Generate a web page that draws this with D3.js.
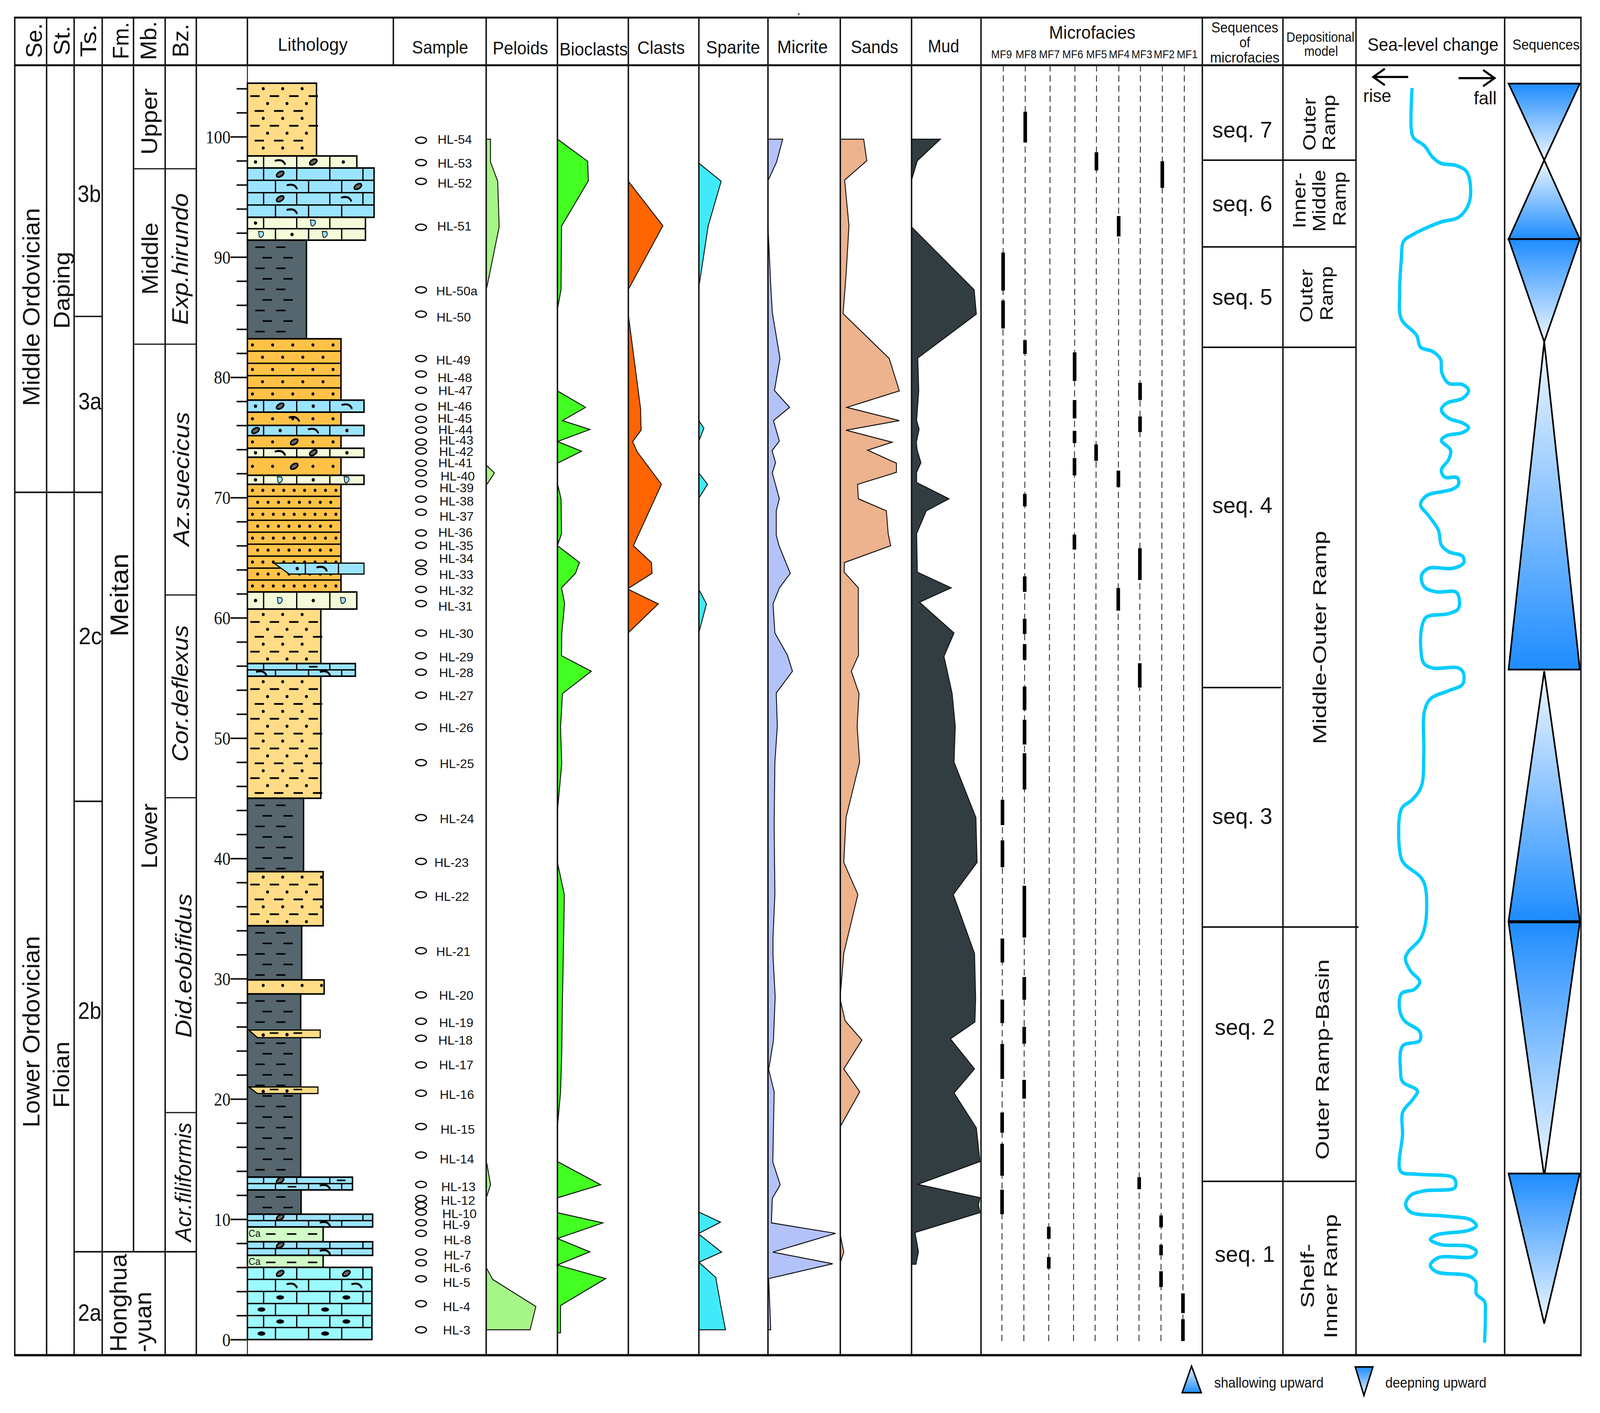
<!DOCTYPE html>
<html lang="en">
<head>
<meta charset="UTF-8">
<title>Sedimentary log</title>
<script src="https://d3js.org/d3.v7.min.js"></script>
<style>
  html, body { margin: 0; background: #fff; overflow: hidden; }
  svg { display: block; width: 100vw; height: 100vh; }
  text { font-family: "Liberation Sans", Arial, sans-serif; fill: #111; }
</style>
</head>
<body>
<script>
// thickness of the section in metres, all depth values below use this
const depthTicks = d3.range(0, 105, 2);

// sample names, depth of the sample mark, depth of the printed name
const sampleNames = ['HL-54','HL-53','HL-52','HL-51','HL-50a','HL-50','HL-49','HL-48','HL-47','HL-46','HL-45','HL-44','HL-43','HL-42','HL-41','HL-40','HL-39','HL-38','HL-37','HL-36','HL-35','HL-34','HL-33','HL-32','HL-31','HL-30','HL-29','HL-28','HL-27','HL-26','HL-25','HL-24','HL-23','HL-22','HL-21','HL-20','HL-19','HL-18','HL-17','HL-16','HL-15','HL-14','HL-13','HL-12','','HL-10','HL-9','HL-8','HL-7','HL-6','HL-5','HL-4','HL-3'];
const sampleDepths = [99.71,97.85,96.29,92.47,87.27,85.25,81.56,80.27,78.92,77.52,76.5,75.61,74.61,73.88,72.86,72.05,71.16,69.87,68.78,67.06,66.03,64.55,63.85,62.37,61.19,58.74,56.85,55.48,53.57,50.93,47.96,43.39,39.75,36.98,32.32,28.65,26.46,25.05,22.83,20.48,17.71,15.34,12.89,11.73,11.18,10.6,9.71,8.83,7.27,6.38,5.05,2.98,0.81];
const sampleLabelDepths = [99.76,97.77,96.13,92.57,87.16,84.98,81.42,79.97,78.87,77.57,76.58,75.63,74.75,73.83,72.89,71.78,70.79,69.68,68.43,67.09,65.98,64.93,63.58,62.24,60.95,58.68,56.74,55.45,53.51,50.85,47.88,43.28,39.64,36.84,32.24,28.6,26.33,24.87,22.83,20.36,17.46,15.01,12.71,11.55,11.18,10.44,9.54,8.28,7.01,5.98,4.74,2.73,0.79];
// small sideways shifts of the printed names, as in the original drawing
const sampleNudge = [-4,-4,-4,-5,-8,-7,-8,-4,-2,-4,-4,-2,0,0,-2,4,1,1,1,-2,0,0,0,0,-2,0,0,0,0,0,2,2,-13,-12,-8,0,0,-2,0,2,4,2,6,5,0,9,10,13,13,13,11,11,11];

// component logs: patches of [depth, percent]
const logNames = ['Peloids','Bioclasts','Clasts','Sparite','Micrite','Sands','Mud'];
const peloids = [
  [[99.8,6],[97.9,6],[96.3,16],[92.5,18],[87.5,1]],
  [[72.7,0],[72.05,11.5],[71.1,1]],
  [[14.63,1],[12.87,6],[11.93,1]],
  [[5.88,1],[5,9],[2.75,69],[0.81,61]]
];
const bioclasts = [
  [[99.8,0],[97.96,42],[96.34,43],[92.57,5.7],[87.3,5],[85.65,0]],
  [[78.87,0],[77.5,39],[76.4,7],[75.66,45],[74.66,0],[73.85,33.5],[72.86,0]],
  [[71.18,0],[69.9,5],[67,5.7],[66,0],[64.6,30.6],[63.7,25],[62.5,5.7],[61.2,10],[58.7,6],[56.85,5.7],[55.56,47],[53.7,7],[50.9,4.3],[47.9,6],[43.9,0]],
  [[39.67,0],[36.98,9.6],[33.4,8.6],[28.4,7],[23.8,6],[20.56,4.3],[17.66,0]],
  [[14.8,0],[12.87,60],[11.78,0]],
  [[10.55,0],[9.7,63],[8.4,0],[7.29,45],[6.2,0],[5.07,67],[2.83,4.3],[0.56,4.3]]
];
const clasts = [
  [[96.3,0],[92.6,48],[87.3,0]],
  [[85.2,0],[77.4,17],[75.6,17.7],[74.66,6],[73.8,12.4],[71.1,46],[66,7],[64.6,32],[63.7,33],[62.45,0]],
  [[62.37,0],[61.16,41.6],[58.76,0]]
];
const sparite = [
  [[97.8,0],[96.3,31],[92.6,13],[87.5,0]],
  [[76.4,0],[75.77,7],[74.7,0]],
  [[72.05,0],[71.1,12],[69.95,0]],
  [[62.37,0],[61.16,10.5],[58.76,0]],
  [[10.6,0],[9.76,30],[8.83,0]],
  [[8.76,0],[7.27,31.5],[6.43,0],[5.17,23.4],[2.78,30.6],[0.81,37]]
];
const micrite = [
  [[99.8,20.5],[97.9,12],[96.34,0]],
  [[92.65,0],[87.7,3.8],[85.4,6],[81.56,16.7],[78.9,9],[77.5,30],[76.4,7.6],[74.7,15.8],[73.9,5.7],[72.9,10.5],[72.05,6],[69.9,15.8],[68.9,11.5],[66.9,11.5],[66,15.3],[63.7,31],[62.5,16],[61.16,7],[58.74,9.6],[56.9,27],[55.56,34],[53.75,11.5],[51,13],[48,9.6],[42.8,8.6],[37,9.6],[33.4,7],[31.9,7],[28.5,10],[24.85,7.6],[22.45,1],[20.6,8.6],[14.76,6.7],[12.87,17],[11.73,6],[9.7,4.8],[8.83,94],[7.27,6.7],[6.3,90],[5.07,1],[0.81,3.8]]
];
const sands = [
  [[99.8,32.5],[98,36.8],[96.4,6],[92.6,12],[88.5,8],[85.3,3.8],[81.56,68],[78.87,82],[77.5,9],[76.4,82],[75.6,8],[74.6,72],[73.94,38],[72.86,78],[72.1,78],[71.1,24],[69.9,25],[68.9,64],[67,66.5],[66,70],[64.6,5.7],[63.8,5.3],[62.5,25],[58.9,25],[56.9,25.3],[55.56,15.3],[53.7,26],[51,23.4],[48,26.8],[43.4,8],[39.67,4.8],[37,24.4],[33.4,10],[32.1,4.8],[28.6,0]],
  [[28.25,0],[26.5,6.7],[24.9,30],[22.5,4.8],[20.6,27],[17.7,0]],
  [[8.7,0],[7.27,4.8],[6.4,0]]
];
const mud = [
  [[99.8,40],[98,8],[96.4,0]],
  [[92.5,0],[87.27,87],[85.25,90],[81.6,8.6],[78.9,10],[76.4,7],[75.7,10.5],[74.6,6.7],[74,7.6],[72.9,13],[72.1,7],[71.25,7],[69.9,52],[68.9,20.5],[67,7],[63.8,8],[62.5,55],[61.3,11],[58.74,59],[56.8,45],[53.7,56.4],[51,60.7],[48,59],[43.4,89.4],[39.67,91],[37,58],[32.1,87.5],[28.4,89],[26.4,88],[25,54],[22.5,87.5],[20.5,59],[17.6,90],[14.8,95],[12.9,8.6],[11.8,95],[11.2,93],[10.55,95],[8.9,4.8],[7.3,9.6],[6.26,6]]
];
const logSeries = [peloids, bioclasts, clasts, sparite, micrite, sands, mud];

// microfacies occurrences: [facies, upper depth, lower depth]
const mfNames = ['MF9','MF8','MF7','MF6','MF5','MF4','MF3','MF2','MF1'];
const mfBars = [
  ['MF8',102.08,99.52],['MF5',98.71,97.2],['MF2',97.96,95.75],['MF4',93.41,91.71],['MF9',90.37,87.21],['MF9',86.38,84.06],
  ['MF8',83.09,81.94],['MF6',82.07,79.7],['MF3',79.54,78.11],['MF6',78.11,76.58],['MF3',76.74,75.45],['MF6',75.55,74.53],
  ['MF5',74.42,73.05],['MF6',73.29,71.84],['MF4',72.24,70.87],['MF8',70.3,69.27],['MF6',66.92,65.68],['MF3',65.79,64.5],
  ['MF3',64.5,63.15],['MF8',63.45,62.16],['MF4',62.48,60.6],['MF8',59.92,58.66],['MF8',57.82,56.5],['MF3',56.23,54.21],
  ['MF8',54.29,52.33],['MF8',51.52,49.47],['MF8',48.75,45.73],['MF9',44.87,42.77],['MF9',41.5,39.27],['MF8',37.73,33.42],
  ['MF9',33.34,31.35],['MF8',30.14,28.25],['MF9',28.27,26.31],['MF8',26,24.6],['MF9',24.57,21.67],['MF8',21.59,20.03],
  ['MF9',18.87,17.2],['MF9',16.27,13.62],['MF3',13.5,12.5],['MF9',12.46,10.42],['MF2',10.32,9.33],['MF7',9.38,8.38],
  ['MF2',7.87,7.01],['MF7',6.86,5.9],['MF2',5.68,4.37],['MF1',3.84,2.2],['MF1',1.69,-0.12]
];

// sea-level curve: [depth, index from rise to fall]
const seaLevel = [
  [104.05,37.7],[100.6,37.2],[99.9,38.8],[99.25,46],[98.3,51.5],[97.8,56.9],[97.6,67.7],[97.1,74.4],[95.75,77.1],[94.4,75.8],[93.3,69],[92.9,56.9],[91.85,38],[91.3,32],[89.8,30.5],[87.1,29.4],[84.85,30.5],[83.5,40.7],[82.5,43.4],[82.15,51.5],[81.5,56.9],[80.4,57.7],[79.5,62.3],[79.4,71.7],[78.9,75.8],[78.25,71.7],[77.85,61],[77.3,57.4],[76.6,62.3],[76.2,71.7],[75.8,75.8],[75.4,71.7],[75.15,61],[74.75,57.4],[73.95,63.6],[73.15,62.3],[72.3,57.4],[71.7,59.6],[71.65,68.2],[71.1,69],[70.7,65],[70.15,47.4],[69.4,43.4],
  [68.5,48.8],[67.27,55.5],[66.06,57.4],[65.5,62.3],[65.12,71.7],[64.58,72.5],[64.12,65],[64.12,48.8],[63.5,44],[62.56,46],[62.16,54.2],[62.1,67.7],[60.8,69],[60.35,62.3],[60.06,47.4],[59.2,44.2],[57.3,43.7],[56.23,45.6],[55.83,51.5],[55.83,69],[55.4,72.3],[54.48,71.7],[53.94,62.3],[53.27,50.1],[52.2,46],[48.7,45.6],[46,44],[44.9,38],[44.1,30.5],[40.2,30],[39.54,32.6],[38.46,43.4],[37.65,46.6],[34.7,46.9],[33.34,43.4],[32.26,35.3],[31.66,33.2],
  [30.65,36.7],[29.76,42.9],[29.13,39.4],[28.75,30.5],[27.37,29.4],[26.5,32.6],[25.6,42.9],[24.85,42.9],[24.4,31.3],[22.32,30],[21.44,31.3],[20.68,41.3],[19.93,38],[18.92,31.5],[17.03,31.3],[14,30],[13.75,40.7],[13.5,65],[13.12,67.1],[12.6,66.3],[12.36,46],[11.98,36.7],[11.23,33.4],[10.6,36.7],[10.27,59.6],[9.97,77],[9.46,81],[9.08,75.8],[8.7,54.2],[8.33,50],[7.9,56.9],[7.75,75.8],[7.32,81],[6.89,78.5],[6.81,55.5],[6.18,50],[5.63,54.2],[5.3,75.8],[4.8,80.6],[3.79,81],[3.16,86.5],[2.15,87],[-0.25,86.5]
];

// sequence triangles: [upper depth, lower depth, wide end]
const seqTriangles = [
  [104.42,98.05,'top'],[98.05,91.49,'bottom'],[91.49,82.95,'top'],[82.95,55.7,'bottom'],
  [55.57,34.78,'bottom'],[34.69,13.54,'top'],[13.8,1.33,'top']
];

// beds, top of the column downwards: [upper depth, lower depth, width %, type, rows, symbols per row]
const lithBeds = [
  [104.45,98.4,48,'silt',0,''],
  [98.4,97.4,76,'limeSand',1,'dsod'],
  [97.4,93.3,88,'lime',4,'-o---|-s-o|-o-s-|-s--'],
  [93.3,91.4,82,'limeSand',2,'d-c-d|cdc--'],
  [91.4,83.2,41,'shale',0,''],
  [83.2,78.1,65,'sand',5,''],
  [78.1,77.1,81,'lime',1,'dods'],
  [77.1,76,65,'sand',1,'s'],
  [76,75.15,81,'lime',1,'odsd'],
  [75.15,74.1,65,'sand',1,'o'],
  [74.1,73.35,81,'limeSand',1,'dsod'],
  [73.35,71.85,65,'sand',1,'o'],
  [71.85,71.1,81,'limeSand',1,'dcdc'],
  [71.1,62.15,65,'sandDense',9,''],
  [62.15,60.73,76,'limeSand',1,'dcdc'],
  [60.73,56.2,51,'silt',0,''],
  [56.2,55.15,75,'lime',2,'--m-|s-s-'],
  [55.15,45,51,'silt',0,''],
  [45,38.9,39,'shale',0,''],
  [38.9,34.4,52.6,'silt',0,''],
  [34.4,29.9,37.7,'shale',0,''],
  [29.9,28.73,53.3,'silt',0,''],
  [28.73,13.5,37,'shale',0,''],
  [13.5,12.44,73,'lime',2,'-o-m|-ms-'],
  [12.44,10.42,37.3,'shale',0,''],
  [10.42,9.36,87,'lime',2,'-o---|--s-'],
  [9.36,8.13,52.6,'marl',0,''],
  [8.13,7,87,'lime',2,'-o---|--s-'],
  [7,6,52.6,'marl',0,''],
  [6,0,86.5,'dolo',6,'-o-o-|-s-s|-e-e-|e-e-|-e-e-|e-e-']
];
// thin lenses cut into the beds: [upper depth, lower depth, left %, left at base %, right %, type]
const lithLenses = [
  [64.55,63.64,18.5,29,81,'lime'],
  [25.73,25.1,1,7,50.6,'silt'],
  [21,20.45,1,7,49,'silt']
];

const lithFill = { silt:'#FFDC85', limeSand:'#F3FBD9', lime:'#9BE4FF', shale:'#55666E', sand:'#FFC247', sandDense:'#FFC247', marl:'#D1FBC7', dolo:'#9CFBFF' };
const logFill = ['#A6F587','#44FF22','#FF6400','#40EAFA','#B3C2F8','#EDB28E','#323D42'];

const width = 4446, height = 3617;
const frameTop = 45, headBottom = 167, frameBottom = 3469;
const colLines = [41,129.5,206,284,459,545.5,1351,1549,1746,1942,2134,2335,2533,2726,3341,3565,3768,4181,4393];
const logLeft = [1351,1549,1746,1942,2134,2335,2533];
const lithLeft = 687.5;

// the browser may clamp the window, so the drawing is fitted to whatever it gets
const svg = d3.select('body').append('svg')
  .attr('viewBox', `0 0 ${width} ${height}`).attr('preserveAspectRatio', 'none');

const y = d3.scaleLinear().domain([0, 100]).range([3429, 350]);
const logX = d3.scaleLinear().domain([0, 100]).range([0, 200]);
const lithX = d3.scaleLinear().domain([0, 100]).range([lithLeft, lithLeft + 400]);
const seaX = d3.scaleLinear().domain([0, 100]).range([3768, 4181]);
const mfX = d3.scaleOrdinal().domain(mfNames).range([2788,2849,2918,2987,3047,3109,3169,3230,3291]);
const lean = v => -4 * (v - headBottom) / (3436 - headBottom);

// text helper, width is forced since the original lettering is a bit condensed
function txt(s, x, yy, size, w, o) {
  o = o || {};
  const t = svg.append('text')
    .attr('transform', `translate(${x},${yy})` + (o.rot ? ' rotate(-90)' : ''))
    .attr('text-anchor', 'middle').attr('dy', '.35em')
    .attr('font-size', size).text(s);
  if (w) t.attr('textLength', w).attr('lengthAdjust', 'spacingAndGlyphs');
  if (o.italic) t.attr('font-style', 'italic');
  return t;
}
function hline(x1, x2, yy, sw) {
  svg.append('line').attr('x1', x1).attr('x2', x2).attr('y1', yy).attr('y2', yy)
    .attr('stroke', '#111').attr('stroke-width', sw || 4);
}
function vline(x, y1, y2, sw) {
  svg.append('line').attr('x1', x).attr('x2', x).attr('y1', y1).attr('y2', y2)
    .attr('stroke', '#111').attr('stroke-width', sw || 4);
}

// gradients for the sequence triangles
const defs = svg.append('defs');
[['gradDown', '#1E8CFF', '#F2F8FF'], ['gradUp', '#F2F8FF', '#1E8CFF']].forEach(g => {
  const lg = defs.append('linearGradient').attr('id', g[0]).attr('x1', 0).attr('x2', 0).attr('y1', 0).attr('y2', 1);
  lg.append('stop').attr('offset', '0%').attr('stop-color', g[1]);
  lg.append('stop').attr('offset', '100%').attr('stop-color', g[2]);
});

// ---- lithology ----
const lith = svg.append('g');

function symbol(g, kind, x, yy) {
  if (kind === 'd') {
    g.append('circle').attr('cx', x).attr('cy', yy).attr('r', 4.5).attr('fill', '#000');
  } else if (kind === 'e') {
    g.append('ellipse').attr('cx', x).attr('cy', yy).attr('rx', 11).attr('ry', 5.5).attr('fill', '#000');
  } else if (kind === 'm') {
    g.append('line').attr('x1', x - 12).attr('x2', x + 12).attr('y1', yy).attr('y2', yy).attr('stroke', '#000').attr('stroke-width', 4);
  } else if (kind === 's') {
    g.append('path').attr('d', `M${x - 15},${yy - 3} Q${x + 8},${yy - 9} ${x + 14},${yy + 7}`).attr('fill', 'none').attr('stroke', '#000').attr('stroke-width', 5);
  } else if (kind === 'o') {
    g.append('ellipse').attr('cx', x).attr('cy', yy).attr('rx', 11).attr('ry', 6).attr('fill', '#666').attr('stroke', '#000').attr('stroke-width', 4)
      .attr('transform', `rotate(-28,${x},${yy})`);
  } else if (kind === 'c') {
    g.append('path').attr('d', `M${x - 8},${yy - 8} L${x + 4},${yy - 7} Q${x + 10},${yy + 2} ${x - 2},${yy + 8} L${x - 6},${yy + 6} Z`)
      .attr('fill', '#9BE4FF').attr('stroke', '#000').attr('stroke-width', 2);
  }
}

function brickRows(g, x0, x1, y0, y1, rows, syms) {
  const rowH = (y1 - y0) / rows;
  const rowSyms = syms.split('|');
  d3.range(rows).forEach(r => {
    const top = y0 + r * rowH;
    if (r > 0) g.append('line').attr('x1', x0).attr('x2', x1).attr('y1', top).attr('y2', top).attr('stroke', '#000').attr('stroke-width', 3.5);
    const offset = r % 2 ? 78 : 45;
    const joints = d3.range(x0 + offset, x1 - 18, 92);
    joints.forEach(j => g.append('line').attr('x1', j).attr('x2', j).attr('y1', top).attr('y2', top + rowH).attr('stroke', '#000').attr('stroke-width', 3.5));
    const edges = [x0].concat(joints, [x1]);
    (rowSyms[r] || '').split('').forEach((k, i) => {
      if (i < edges.length - 1) symbol(g, k, (edges[i] + edges[i + 1]) / 2, top + rowH / 2);
    });
  });
}

function dashes(g, x0, x1, y0, y1, col) {
  d3.range(y0 + 18, y1 - 6, 27).forEach((yy, r) => {
    d3.range(x0 + (r % 2 ? 42 : 22), x1 - 28, 58).forEach(x => {
      g.append('line').attr('x1', x).attr('x2', x + 26).attr('y1', yy).attr('y2', yy).attr('stroke', col).attr('stroke-width', 4);
    });
  });
}

// silty beds: staggered rows, every dash has a dot sitting just above it
function silt(g, x0, x1, y0, y1) {
  d3.range(y0 + 14, y1 - 4, 19).forEach((yy, r) => {
    d3.range(x0 + [30, 8, 42, 20][r % 4], x1 - 16, 54).forEach(x => {
      if (r % 2) {
        g.append('line').attr('x1', x).attr('x2', x + 26).attr('y1', yy).attr('y2', yy).attr('stroke', '#000').attr('stroke-width', 4.5);
      } else {
        g.append('circle').attr('cx', x + 14).attr('cy', yy).attr('r', 4).attr('fill', '#000');
      }
    });
  });
}

function sandDots(g, x0, x1, y0, y1, rows, step) {
  const rowH = (y1 - y0) / rows;
  d3.range(rows).forEach(r => {
    const top = y0 + r * rowH;
    if (r > 0) g.append('line').attr('x1', x0).attr('x2', x1).attr('y1', top).attr('y2', top).attr('stroke', '#000').attr('stroke-width', 3.5);
    d3.range(x0 + 14 + (r % 2) * step / 2, x1 - 8, step).forEach(x => {
      g.append('circle').attr('cx', x).attr('cy', top + rowH / 2).attr('r', 4).attr('fill', '#000');
    });
  });
}

function fillBed(g, type, x0, x1, y0, y1, rows, syms) {
  if (type === 'lime' || type === 'limeSand' || type === 'dolo') brickRows(g, x0, x1, y0, y1, rows, syms);
  if (type === 'shale') dashes(g, x0, x1, y0, y1, '#000');
  if (type === 'marl') {
    dashes(g, x0 + 30, x1, y0, y1, '#000');
    g.append('text').attr('x', x0 + 3).attr('y', y0 + 25).attr('font-size', 26).text('Ca');
  }
  if (type === 'silt') silt(g, x0, x1, y0, y1);
  if (type === 'sand') {
    sandDots(g, x0, x1, y0, y1, rows, 56);
    if (syms) symbol(g, syms, (x0 + x1) / 2, (y0 + y1) / 2);
  }
  if (type === 'sandDense') sandDots(g, x0, x1, y0, y1, rows, 29);
}

lithBeds.forEach(b => {
  const g = lith.append('g');
  const x0 = lithX(0), x1 = lithX(b[2]), y0 = y(b[0]), y1 = y(b[1]);
  g.append('rect').attr('x', x0).attr('y', y0).attr('width', x1 - x0).attr('height', y1 - y0)
    .attr('fill', lithFill[b[3]]).attr('stroke', '#000').attr('stroke-width', 4);
  fillBed(g, b[3], x0, x1, y0, y1, b[4], b[5]);
});
lithLenses.forEach((b, i) => {
  const g = lith.append('g');
  const y0 = y(b[0]), y1 = y(b[1]);
  g.append('path')
    .attr('d', d3.line()([[lithX(b[2]), y0], [lithX(b[4]), y0], [lithX(b[4]), y1], [lithX(b[3]), y1]]) + 'Z')
    .attr('fill', lithFill[b[5]]).attr('stroke', '#000').attr('stroke-width', 3);
  if (i === 0) {
    brickRows(g, lithX(b[3]), lithX(b[4]), y0, y1, 1, 'ds-o');
  } else {
    const mid = (y0 + y1) / 2;
    d3.range(lithX(b[3]) + 16, lithX(b[4]) - 30, 66).forEach((x, k) => {
      symbol(g, 'd', x, mid + (k % 2 ? 2 : 3));
      symbol(g, 'm', x + 30, mid - 2);
    });
  }
});

// depth axis
const axis = svg.append('g').attr('transform', `translate(${lithLeft},0)`)
  .call(d3.axisLeft(y).tickValues(depthTicks).tickSize(30).tickFormat(d => d % 10 === 0 ? d : ''));
axis.select('.domain').remove();
axis.selectAll('.tick line').attr('stroke', '#111').attr('stroke-width', 4).attr('x2', d => d % 10 === 0 ? -47 : -30);
axis.selectAll('.tick text').attr('x', -47).attr('dy', '.35em')
  .style('font-family', '"Liberation Serif", serif').attr('font-size', 46).attr('fill', '#111');
vline(lithLeft, headBottom, frameBottom, 2.5);

// ---- samples ----
sampleNames.forEach((name, i) => {
  svg.append('ellipse').attr('cx', 1170).attr('cy', y(sampleDepths[i])).attr('rx', 15).attr('ry', 8)
    .attr('fill', 'none').attr('stroke', '#111').attr('stroke-width', 3.5);
  if (name) {
    const t = svg.append('text').attr('x', 1220 + sampleNudge[i]).attr('y', y(sampleLabelDepths[i]))
      .attr('dy', '.35em').attr('font-size', 31).text(name);
    t.attr('textLength', t.node().getComputedTextLength() * 1.13).attr('lengthAdjust', 'spacingAndGlyphs');
  }
});

// ---- component logs ----
const patchLine = d3.line().x(d => logX(d[1])).y(d => y(d[0]));
logSeries.forEach((patches, i) => {
  const g = svg.append('g').attr('transform', `translate(${logLeft[i]},0)`);
  g.selectAll('path').data(patches).enter().append('path')
    .attr('d', p => patchLine([[p[0][0], 0]].concat(p, [[p[p.length - 1][0], 0]])) + 'Z')
    .attr('fill', logFill[i]).attr('stroke', '#111').attr('stroke-width', 2.5);
});

// ---- microfacies ----
svg.append('g').selectAll('line').data(mfNames).enter().append('line')
  .attr('x1', d => mfX(d)).attr('x2', d => mfX(d) + lean(3436))
  .attr('y1', headBottom).attr('y2', 3436)
  .attr('stroke', '#333').attr('stroke-width', 2.5).attr('stroke-dasharray', '16,10');
svg.append('g').selectAll('rect').data(mfBars).enter().append('rect')
  .attr('x', d => mfX(d[0]) + lean(y(d[1])) - 5).attr('width', 10)
  .attr('y', d => y(d[1])).attr('height', d => y(d[2]) - y(d[1]))
  .attr('fill', '#000');

// ---- sea level ----
svg.append('path').datum(seaLevel)
  .attr('d', d3.line().x(d => seaX(d[1])).y(d => y(d[0])).curve(d3.curveCatmullRom.alpha(0.5)))
  .attr('fill', 'none').attr('stroke', '#00CCFF').attr('stroke-width', 9);

// arrows above the curve
function arrow(x1, x2, yy) {
  const dir = x2 > x1 ? -1 : 1;
  svg.append('path').attr('d', `M${x1},${yy} L${x2},${yy} M${x2 + dir * 32},${yy - 21} L${x2},${yy} L${x2 + dir * 32},${yy + 21}`)
    .attr('fill', 'none').attr('stroke', '#000').attr('stroke-width', 5.5);
}
arrow(3913, 3816, 197);
arrow(4053, 4153, 200);

// ---- sequence triangles ----
svg.append('g').selectAll('path').data(seqTriangles).enter().append('path')
  .attr('d', d => {
    const wideY = y(d[2] === 'top' ? d[0] : d[1]);
    const tipY = y(d[2] === 'top' ? d[1] : d[0]);
    return d3.line()([[4192, wideY], [4390, wideY], [4291, tipY]]) + 'Z';
  })
  .attr('fill', d => d[2] === 'top' ? 'url(#gradDown)' : 'url(#gradUp)')
  .attr('stroke', '#000').attr('stroke-width', 4.5);

// ---- frame ----
colLines.forEach(x => vline(x, frameTop, frameBottom));
vline(371, frameTop, 3204);
vline(lithLeft, frameTop, headBottom);
vline(1093, frameTop, headBottom);
hline(39, 4395, frameTop, 5);
hline(39, 4395, headBottom, 5);
hline(39, 4395, frameBottom, 6);

// unit boundaries, given as depths
hline(206, 284, y(85.06), 3.5);
hline(41, 284, y(70.44), 4);
hline(206, 284, y(44.75), 4);
hline(206, 545.5, y(7.3), 4);
hline(371, 545.5, 432, 3);
hline(371, 545.5, 881, 3);
hline(459, 545.5, 1523, 3);
hline(459, 545.5, 2042, 3);
hline(459, 545.5, 2848, 3);
hline(3341, 3770, 410, 4);
hline(3341, 3770, 632, 4);
hline(3341, 3768, 889, 4);
hline(3341, 3560, 1760, 4);
hline(3341, 3775, 2373, 4);
hline(3341, 3768, 3024, 4);

// ---- header text ----
[['Se.', 94, 89], ['St.', 171, 76], ['Ts.', 245, 84], ['Fm.', 335, 95], ['Mb.', 412, 100], ['Bz.', 502, 86]].forEach(h => {
  txt(h[0], h[1], 104, 62, h[2], { rot: true });
});
txt('Lithology', 869, 114, 47, 194);
txt('Sample', 1223, 121, 46, 156);
const logHeadX = [1446, 1649.5, 1837, 2037, 2230, 2430, 2622];
const logHeadW = [154, 190, 132, 150, 141, 132, 87];
const logHeadY = [123, 126, 122, 121, 120, 120, 118];
logNames.forEach((n, i) => txt(n, logHeadX[i], logHeadY[i], 46, logHeadW[i]));
txt('Microfacies', 3035, 83, 46, 240);
const mfHeadX = [2783, 2851, 2916, 2981, 3047, 3110, 3173, 3235, 3299];
mfNames.forEach((n, i) => txt(n, mfHeadX[i], 139, 29, 58));
txt('Sequences', 3459, 70, 37, 186);
txt('of', 3459, 108, 37, 30);
txt('microfacies', 3459, 147, 37, 193);
txt('Depositional', 3669, 95, 35, 189);
txt('model', 3671, 131, 35, 94);
txt('Sea-level change', 3982, 114, 46, 364);
txt('Sequences', 4296, 114, 37, 187);
txt('rise', 3827, 245, 46, 78);
txt('fall', 4127, 251, 46, 64);

// ---- stratigraphy columns ----
txt('Middle Ordovician', 87, 786, 66, 507, { rot: true });
txt('Lower Ordovician', 87, 2641, 66, 490, { rot: true });
txt('Daping', 171, 743, 62, 197, { rot: true });
txt('Floian', 170, 2751, 62, 170, { rot: true });
txt('3b', 248, 495, 62, 65);
txt('3a', 250, 1026, 62, 65);
txt('2c', 251, 1627, 62, 65);
txt('2b', 249, 2586, 62, 65);
txt('2a', 249, 3359, 62, 65);
txt('Meitan', 332, 1523, 70, 213, { rot: true });
txt('Honghua', 329, 3335, 66, 251, { rot: true });
txt('-yuan', 397, 3384, 66, 155, { rot: true });
txt('Upper', 415, 311, 62, 170, { rot: true });
txt('Middle', 417, 662, 62, 185, { rot: true });
txt('Lower', 415, 2140, 62, 167, { rot: true });
txt('Exp.hirundo', 500, 663, 62, 337, { rot: true, italic: true });
txt('Az.suecicus', 504, 1226, 62, 343, { rot: true, italic: true });
txt('Cor.deflexus', 500, 1775, 62, 350, { rot: true, italic: true });
txt('Did.eobifidus', 510, 2472, 62, 369, { rot: true, italic: true });
txt('Acr.filiformis', 509, 3026, 62, 305, { rot: true, italic: true });

// ---- sequences and model ----
txt('seq. 7', 3452, 332, 57, 167);
txt('seq. 6', 3452, 521, 57, 167);
txt('seq. 5', 3452, 760, 57, 167);
txt('seq. 4', 3452, 1293, 57, 167);
txt('seq. 3', 3452, 2089, 57, 167);
txt('seq. 2', 3459, 2629, 57, 167);
txt('seq. 1', 3459, 3210, 57, 167);

txt('Outer', 3638, 318, 50, 135, { rot: true });
txt('Ramp', 3693, 314, 50, 143, { rot: true });
txt('Inner-', 3610, 513, 50, 143, { rot: true });
txt('Middle', 3665, 514, 50, 159, { rot: true });
txt('Ramp', 3722, 509, 50, 139, { rot: true });
txt('Outer', 3630, 757, 50, 137, { rot: true });
txt('Ramp', 3686, 751, 50, 139, { rot: true });
txt('Middle-Outer Ramp', 3667, 1632, 52, 546, { rot: true });
txt('Outer Ramp-Basin', 3674, 2712, 52, 513, { rot: true });
txt('Shelf-', 3633, 3266, 52, 165, { rot: true });
txt('Inner Ramp', 3697, 3267, 52, 318, { rot: true });

// ---- legend ----
svg.append('path').attr('d', d3.line()([[3285, 3565], [3338, 3565], [3311, 3497]]) + 'Z')
  .attr('fill', 'url(#gradUp)').attr('stroke', '#000').attr('stroke-width', 4);
svg.append('path').attr('d', d3.line()([[3766, 3499], [3815, 3499], [3790, 3572]]) + 'Z')
  .attr('fill', 'url(#gradDown)').attr('stroke', '#000').attr('stroke-width', 4);
txt('shallowing upward', 3526, 3539, 37, 304);
txt('deepning upward', 3990, 3539, 37, 281);

svg.append('rect').attr('x', 2218).attr('y', 34).attr('width', 3).attr('height', 4).attr('fill', '#000');
</script>
</body>
</html>
